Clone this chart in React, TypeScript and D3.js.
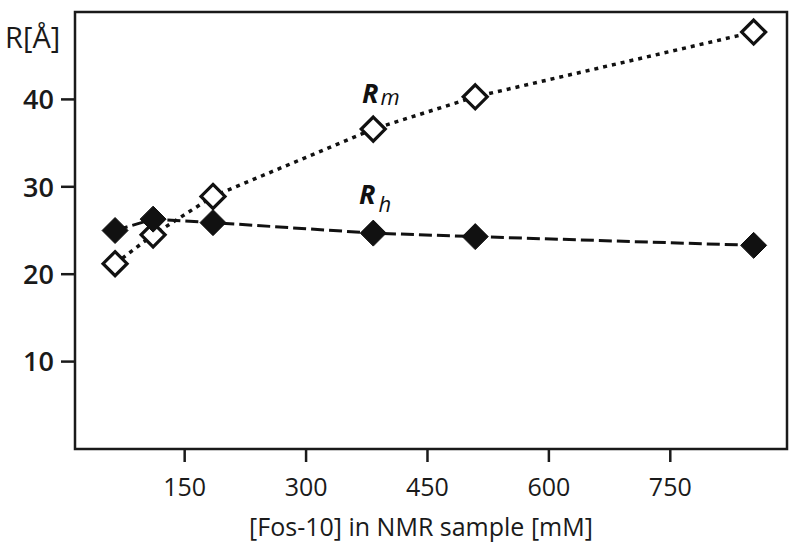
import React from "react";
import * as d3 from "d3";

const concentrations = [64, 111, 185, 383, 509, 853];
const rhValues = [25.0, 26.3, 25.9, 24.7, 24.3, 23.3];
const rmValues = [21.2, 24.5, 28.9, 36.6, 40.3, 47.7];
const xTicks = [150, 300, 450, 600, 750];
const yTicks = [10, 20, 30, 40];

const W = 800;
const H = 548;
const left = 75, right = 787, top = 12, bottom = 449;
const font = "'Open Sans', 'DejaVu Sans', sans-serif";

export default function App() {
  const x = d3.scaleLinear().domain([14.5, 894.2]).range([left, right]);
  const y = d3.scaleLinear().domain([0, 50]).range([bottom, top]);
  const rh = concentrations.map((c, i) => [c, rhValues[i]] as [number, number]);
  const rm = concentrations.map((c, i) => [c, rmValues[i]] as [number, number]);
  const line = d3.line<[number, number]>().x(d => x(d[0])).y(d => y(d[1]));
  const diamond = (cx: number, cy: number, r: number) =>
    `M${cx},${cy - r}L${cx + r},${cy}L${cx},${cy + r}L${cx - r},${cy}Z`;

  return (
    <svg width={W} height={H} style={{ position: "absolute", left: 0, top: 0, background: "#fff" }} fontFamily={font}>
      <rect x={0} y={0} width={W} height={H} fill="#fff" />
      <rect x={left} y={top} width={right - left} height={bottom - top} fill="none" stroke="#1a1a1a" strokeWidth={2.5} />
      {yTicks.map(t => (
        <g key={t}>
          <line x1={left - 14} x2={left} y1={y(t)} y2={y(t)} stroke="#1a1a1a" strokeWidth={2.5} />
          <text x={54} y={y(t)} dy="0.36em" textAnchor="end" fontSize={27} fontWeight={600} fill="#1a1a1a">{t}</text>
        </g>
      ))}
      {xTicks.map(t => (
        <g key={t}>
          <line x1={x(t)} x2={x(t)} y1={bottom} y2={bottom + 13} stroke="#1a1a1a" strokeWidth={2.5} />
          <text x={x(t)} y={496} textAnchor="middle" fontSize={25} fill="#1a1a1a">{t}</text>
        </g>
      ))}
      <text x={5} y={48} fontSize={29} fill="#1a1a1a">R[Å]</text>
      <text x={421} y={536} textAnchor="middle" fontSize={25} fill="#1a1a1a">[Fos-10] in NMR sample [mM]</text>

      <path d={line(rm) || ""} fill="none" stroke="#111" strokeWidth={3.5} strokeDasharray="4 5" />
      <path d={line(rh) || ""} fill="none" stroke="#111" strokeWidth={3} strokeDasharray="13 5" />
      {rm.map((d, i) => (
        <path key={"m" + i} d={diamond(x(d[0]), y(d[1]), 12)} fill="#fff" stroke="#111" strokeWidth={3.2} />
      ))}
      {rh.map((d, i) => (
        <path key={"h" + i} d={diamond(x(d[0]), y(d[1]), 13)} fill="#111" stroke="#111" strokeWidth={1} />
      ))}

      <text x={362} y={103} fontSize={27} fontStyle="italic" fontWeight={700} fill="#111">
        R<tspan fontSize={22} fontWeight={400} dx={2} dy={2}>m</tspan>
      </text>
      <text x={359} y={204} fontSize={27} fontStyle="italic" fontWeight={700} fill="#111">
        R<tspan fontSize={22} fontWeight={400} dx={3} dy={8}>h</tspan>
      </text>
    </svg>
  );
}
